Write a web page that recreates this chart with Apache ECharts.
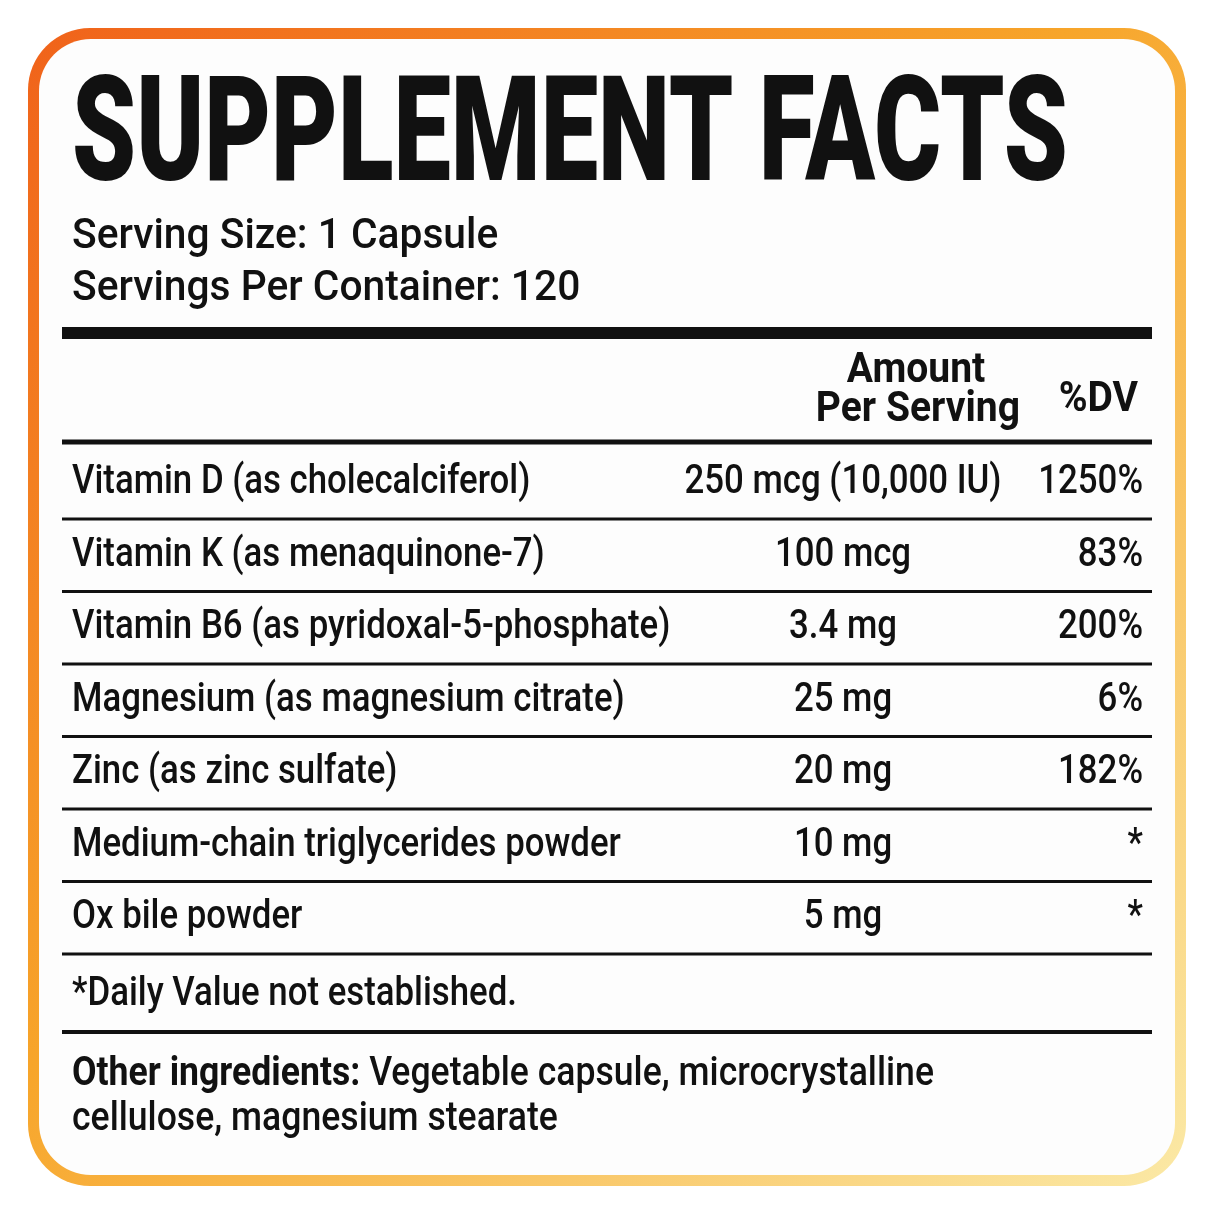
<!DOCTYPE html>
<html><head><meta charset="utf-8">
<script src="https://cdn.jsdelivr.net/npm/echarts@6/dist/echarts.min.js"></script>
<style>html,body{margin:0;padding:0;background:#fff}#c{width:1214px;height:1214px}</style>
</head><body><div id="c"></div>
<script>
const title = "SUPPLEMENT FACTS";
const servingInfo = ["Serving Size: 1 Capsule", "Servings Per Container: 120"];
const ingredients = ["Vitamin D (as cholecalciferol)","Vitamin K (as menaquinone-7)","Vitamin B6 (as pyridoxal-5-phosphate)","Magnesium (as magnesium citrate)","Zinc (as zinc sulfate)","Medium-chain triglycerides powder","Ox bile powder"];
const amounts = ["250 mcg (10,000 IU)","100 mcg","3.4 mg","25 mg","20 mg","10 mg","5 mg"];
const dailyValues = ["1250%","83%","200%","6%","182%","*","*"];
const footnote = "*Daily Value not established.";
const otherLabel = "Other ingredients:";
const otherText = [" Vegetable capsule, microcrystalline", "cellulose, magnesium stearate"];

const FONT = "Roboto, 'DejaVu Sans', sans-serif";
const SX = 0.87;
const cv = document.createElement('canvas').getContext('2d');
function mw(t, font){ cv.font = font; return cv.measureText(t).width; }

const els = [];
els.push({type:'rect', shape:{x:28,y:28,width:1158,height:1158,r:62},
  style:{fill:new echarts.graphic.LinearGradient(0,0,1,1,[{offset:0,color:'#f0621a'},{offset:0.45,color:'#f7a52a'},{offset:1,color:'#fbe9a6'}])}, z:1});
els.push({type:'rect', shape:{x:39,y:39,width:1136,height:1136,r:52}, style:{fill:'#fdfdfd'}, z:2});

function txt(t, x, y, size, weight, align, sx){
  els.push({type:'text', x:x, y:y, scaleX:sx||SX, originX:0, originY:0, z:10,
    style:{text:t, font:(weight||'500')+' '+size+'px '+FONT, fill:'#111', textAlign:align||'left', textVerticalAlign:'middle'}});
}
function line(y, h){ els.push({type:'rect', shape:{x:62,y:y-h/2,width:1090,height:h}, style:{fill:'#111'}, z:5}); }

const tf = "900 146px " + FONT;
txt(title, 72, 143, 146, 900, 'left', 996 / mw(title, tf));
txt(servingInfo[0], 72, 237, 42, '500', 'left', 0.97);
txt(servingInfo[1], 72, 289, 42, '500', 'left', 0.97);
line(333, 12);
txt("Amount", 916, 371, 42, 'bold', 'center', 0.93);
txt("Per Serving", 1020, 410, 42, 'bold', 'right', 0.93);
txt("%DV", 1138, 400, 42, 'bold', 'right', 0.93);
line(442, 5);

const rowY0 = 483, rowH = 72.5;
ingredients.forEach((name, i) => {
  const y = rowY0 + i * rowH;
  txt(name, 72, y, 40);
  const w = mw(amounts[i], "500 40px " + FONT) * SX;
  if (843 + w / 2 > 1022) txt(amounts[i], 1022, y, 40, '500', 'right');
  else txt(amounts[i], 843, y, 40, '500', 'center');
  txt(dailyValues[i], 1143, y, 40, '500', 'right');
  line(y + 36, 3);
});
txt(footnote, 72, 995, 40);
line(1032, 4);
els.push({type:'text', x:72, y:1075, scaleX:0.89, originX:0, originY:0, z:10,
  style:{text:'{b|'+otherLabel+'}'+otherText[0], font:"500 40px "+FONT, fill:'#111', textVerticalAlign:'middle',
    rich:{b:{fontWeight:'bold', fontSize:40, fontFamily:FONT, fill:'#111'}}}});
txt(otherText[1], 72, 1120, 40, '500', 'left', 0.89);

const chart = echarts.init(document.getElementById('c'));
chart.setOption({animation:false, graphic:{elements:els}});
</script></body></html>
